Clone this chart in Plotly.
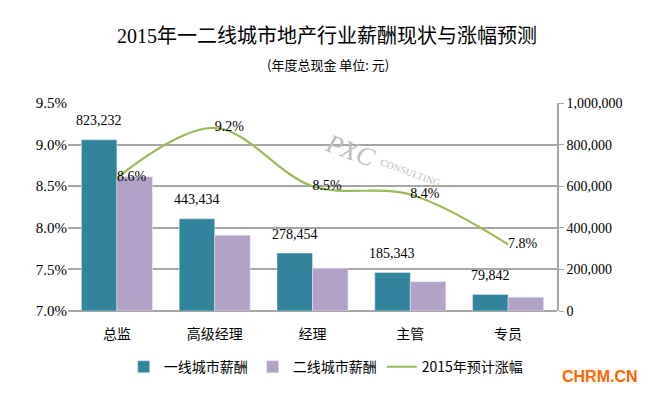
import plotly.graph_objects as go

categories = ["总监", "高级经理", "经理", "主管", "专员"]
tier1_salary = [823232, 443434, 278454, 185343, 79842]
tier2_salary = [645000, 364000, 205000, 141000, 66000]
growth_2015 = [8.6, 9.2, 8.5, 8.4, 7.8]

series_names = ["一线城市薪酬", "二线城市薪酬", "2015年预计涨幅"]
title_text = "2015年一二线城市地产行业薪酬现状与涨幅预测"
subtitle_text = "(年度总现金 单位: 元)"
left_ticks = [7.0, 7.5, 8.0, 8.5, 9.0, 9.5]
left_tick_labels = ["7.0%", "7.5%", "8.0%", "8.5%", "9.0%", "9.5%"]
right_ticks = [0, 200000, 400000, 600000, 800000, 1000000]

TEAL = "#31849b"
PURPLE = "#b3a2c7"
GREEN = "#9bbb59"
GRID = "#a6a6a6"
SERIF = "Liberation Serif, Times New Roman, Noto Sans CJK SC, serif"
CJK = "Noto Sans CJK SC, sans-serif"

fig = go.Figure()
fig.add_trace(go.Bar(
    x=categories, y=tier1_salary, name=series_names[0],
    marker=dict(color=TEAL), yaxis="y",
))
fig.add_trace(go.Bar(
    x=categories, y=tier2_salary, name=series_names[1],
    marker=dict(color=PURPLE), yaxis="y",
))
fig.add_trace(go.Scatter(
    x=categories, y=growth_2015, name=series_names[2], yaxis="y2",
    mode="lines+text", line=dict(color=GREEN, width=2.2, shape="spline", smoothing=1.0),
    text=[f"{v:.1f}%" for v in growth_2015], textposition="middle right",
    textfont=dict(family=SERIF, size=14, color="#000000"), cliponaxis=False,
))

annotations = []
for c, v in zip(categories, tier1_salary):
    annotations.append(dict(
        x=c, y=v, xref="x", yref="y", text=f"{v:,}", showarrow=False,
        xshift=-18, yshift=19, yanchor="middle",
        font=dict(family=SERIF, size=14, color="#000000"),
    ))

annotations.append(dict(
    x=0.532, y=1.183, xref="paper", yref="paper", text=subtitle_text,
    showarrow=False, font=dict(family=CJK, size=13, color="#000000"),
    xanchor="center", yanchor="middle",
))
annotations.append(dict(
    x=1.088, y=-0.317, xref="paper", yref="paper", text="<b>CHRM.CN</b>",
    showarrow=False, font=dict(family="Liberation Sans, Arial, sans-serif", size=16, color="#ff6600"),
    xanchor="center", yanchor="middle",
))
annotations.append(dict(
    x=0.577, y=0.774, xref="paper", yref="paper", text="<i>PXC</i>",
    showarrow=False, textangle=20, xanchor="center", yanchor="middle",
    font=dict(family=SERIF, size=26, color="#bdbdbd"),
))
annotations.append(dict(
    x=0.70, y=0.668, xref="paper", yref="paper", text="CONSULTING",
    showarrow=False, textangle=20, xanchor="center", yanchor="middle",
    font=dict(family=SERIF, size=10, color="#bdbdbd"),
))

fig.update_layout(
    width=649, height=395,
    margin=dict(l=68, r=92, t=103, b=84),
    paper_bgcolor="#ffffff", plot_bgcolor="#ffffff",
    barmode="group", bargap=0.274, bargroupgap=0,
    title=dict(text=title_text, x=0.504, xref="container", xanchor="center",
               y=1 - 36 / 395, yref="container", yanchor="middle",
               font=dict(family=SERIF, size=20, color="#000000")),
    xaxis=dict(
        type="category", showgrid=False, showline=False, ticks="",
        tickfont=dict(family=CJK, size=14, color="#000000"),
        ticklabelstandoff=13,
    ),
    yaxis=dict(
        side="right", range=[0, 1000000], tickvals=right_ticks,
        tickformat=",", showgrid=True, gridcolor=GRID, gridwidth=1.5,
        zeroline=True, zerolinecolor=GRID, zerolinewidth=1.5,
        showline=True, linecolor=GRID, linewidth=1.5,
        ticks="outside", ticklen=5, tickcolor=GRID,
        tickfont=dict(family=SERIF, size=14, color="#000000"),
    ),
    yaxis2=dict(
        side="left", overlaying="y", range=[7.0, 9.5], tickvals=left_ticks,
        ticktext=left_tick_labels, showgrid=False, zeroline=False,
        showline=False, ticks="",
        tickfont=dict(family=SERIF, size=15, color="#000000"),
    ),
    legend=dict(
        orientation="h", x=0.528, xanchor="center", y=-0.27, yanchor="middle",
        font=dict(family=CJK, size=14, color="#000000"),
        itemwidth=30, tracegroupgap=0, bgcolor="rgba(0,0,0,0)",
    ),
    annotations=annotations,
    showlegend=True,
)

fig.write_html("out.html", config={"displayModeBar": False},
               post_script="document.body.style.margin='0';")
